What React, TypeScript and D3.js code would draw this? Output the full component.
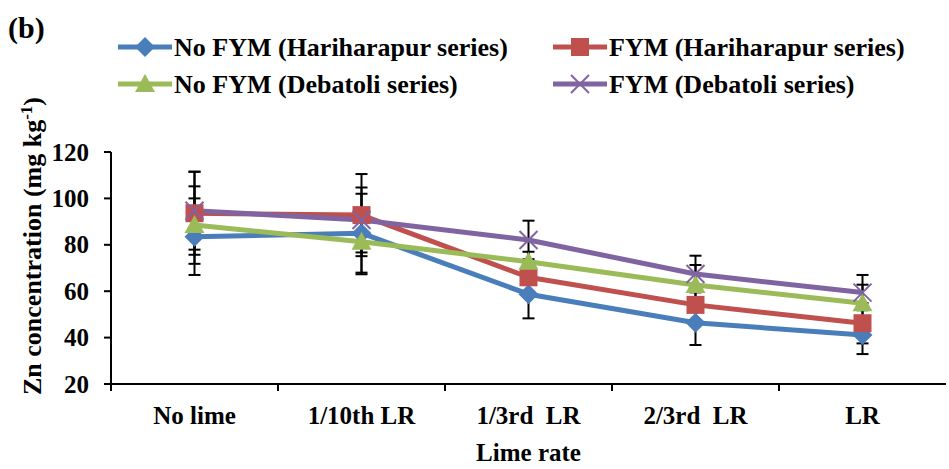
import * as d3 from "d3";

const categories = ["No lime", "1/10th LR", "1/3rd  LR", "2/3rd  LR", "LR"];
const seriesNames = [
  "No FYM (Hariharapur series)",
  "FYM (Hariharapur series)",
  "No FYM (Debatoli series)",
  "FYM (Debatoli series)",
];
const noFymHari = [83.5, 85, 58.7, 46.4, 41.1];
const noFymHariErr = [16.5, 17, 10.4, 9.6, 8.2];
const fymHari = [93.6, 92.8, 66, 54.1, 46.2];
const fymHariErr = [17.9, 17.7, 7, 7, 8.7];
const noFymDeb = [88.5, 81.3, 72.7, 62.7, 54.8];
const noFymDebErr = [16.7, 14, 4.3, 8.6, 8];
const fymDeb = [94.7, 90.7, 82.1, 67.4, 59.4];
const fymDebErr = [16.8, 14, 8.3, 7.9, 7.6];
const yTicks = [20, 40, 60, 80, 100, 120];

const colors = ["#4A7EBB", "#C0504D", "#9BBB59", "#8064A2"];
const markers = ["diamond", "square", "triangle", "cross"];

const W = 949;
const H = 469;
const margin = { top: 152, right: 3, bottom: 85, left: 111 };
const font = "'Liberation Serif', 'Times New Roman', serif";

function Marker({ type, x, y, color }: { type: string; x: number; y: number; color: string }) {
  if (type === "diamond") {
    const s = 10;
    return <path d={`M${x},${y - s}L${x + s},${y}L${x},${y + s}L${x - s},${y}Z`} fill={color} />;
  }
  if (type === "square") {
    const s = 9;
    return <rect x={x - s} y={y - s} width={2 * s} height={2 * s} fill={color} />;
  }
  if (type === "triangle") {
    const s = 10;
    return <path d={`M${x},${y - s}L${x + s},${y + s * 0.8}L${x - s},${y + s * 0.8}Z`} fill={color} />;
  }
  const s = 9;
  return (
    <path
      d={`M${x - s},${y - s}L${x + s},${y + s}M${x - s},${y + s}L${x + s},${y - s}`}
      stroke={color}
      strokeWidth={2}
    />
  );
}

export default function App() {
  const values = [noFymHari, fymHari, noFymDeb, fymDeb];
  const errors = [noFymHariErr, fymHariErr, noFymDebErr, fymDebErr];

  const x = d3
    .scaleBand()
    .domain(categories)
    .range([margin.left, W - margin.right]);
  const cx = (c: string) => x(c)! + x.bandwidth() / 2;
  const y = d3
    .scaleLinear()
    .domain([20, 120])
    .range([H - margin.bottom, margin.top]);

  const line = d3
    .line<number>()
    .x((_, i) => cx(categories[i]))
    .y((d) => y(d));

  const legendPos = [
    { lx: 118, ly: 47 },
    { lx: 553, ly: 47 },
    { lx: 118, ly: 84 },
    { lx: 553, ly: 84 },
  ];

  return (
    <svg width={W} height={H} style={{ position: "absolute", left: 0, top: 0, background: "#fff" }} fontFamily={font} fontWeight="bold">
      <text x={8} y={38} fontSize={30}>(b)</text>

      {/* legend */}
      {seriesNames.map((name, i) => {
        const { lx, ly } = legendPos[i];
        return (
          <g key={name}>
            <line x1={lx} x2={lx + 54} y1={ly} y2={ly} stroke={colors[i]} strokeWidth={5} />
            <Marker type={markers[i]} x={lx + 27} y={ly} color={colors[i]} />
            <text x={lx + 56} y={ly + 9} fontSize={26}>{name}</text>
          </g>
        );
      })}

      {/* error bars */}
      {values.map((vals, si) =>
        vals.map((v, i) => {
          const px = cx(categories[i]);
          const e = errors[si][i];
          return (
            <g key={`e${si}-${i}`} stroke="#000" strokeWidth={2}>
              <line x1={px} x2={px} y1={y(v - e)} y2={y(v + e)} />
              <line x1={px - 6} x2={px + 6} y1={y(v + e)} y2={y(v + e)} />
              <line x1={px - 6} x2={px + 6} y1={y(v - e)} y2={y(v - e)} />
            </g>
          );
        })
      )}

      {/* lines */}
      {values.map((vals, si) => (
        <path key={`l${si}`} d={line(vals)!} fill="none" stroke={colors[si]} strokeWidth={5} strokeLinejoin="round" />
      ))}
      {values.map((vals, si) =>
        vals.map((v, i) => (
          <Marker key={`m${si}-${i}`} type={markers[si]} x={cx(categories[i])} y={y(v)} color={colors[si]} />
        ))
      )}

      {/* y axis */}
      <line x1={margin.left} x2={margin.left} y1={y(120)} y2={y(20)} stroke="#000" strokeWidth={2} />
      {yTicks.map((t) => (
        <g key={t}>
          <line x1={margin.left - 7} x2={margin.left} y1={y(t)} y2={y(t)} stroke="#000" strokeWidth={2} />
          <text x={89} y={y(t) + 8.5} textAnchor="end" fontSize={25}>{t}</text>
        </g>
      ))}

      {/* x axis */}
      <line x1={margin.left - 7} x2={W - margin.right} y1={y(20)} y2={y(20)} stroke="#000" strokeWidth={2} />
      {categories.map((c) => (
        <g key={c}>
          <line x1={x(c)!} x2={x(c)!} y1={y(20)} y2={y(20) + 7} stroke="#000" strokeWidth={2} />
          <text x={cx(c)} y={424} textAnchor="middle" fontSize={25} style={{ whiteSpace: "pre" }}>{c}</text>
        </g>
      ))}

      <text x={(margin.left + W - margin.right) / 2} y={461} textAnchor="middle" fontSize={25}>Lime rate</text>

      <text transform={`translate(41, 246) rotate(-90)`} textAnchor="middle" fontSize={26}>
        Zn concentration (mg kg<tspan baselineShift="super" fontSize={17}>-1</tspan>)
      </text>
    </svg>
  );
}
